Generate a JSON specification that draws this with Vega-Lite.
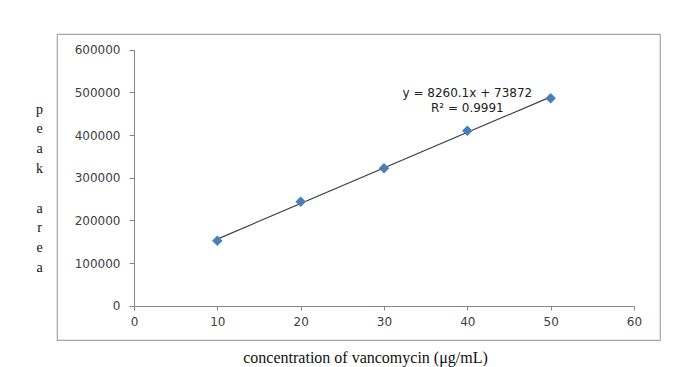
{
  "$schema": "https://vega.github.io/schema/vega-lite/v6.json",
  "width": 603,
  "height": 306,
  "autosize": {"type": "none"},
  "padding": {"left": 57, "top": 34, "right": 21, "bottom": 27},
  "background": "white",
  "config": {"view": {"stroke": "#a6a6a6", "strokeWidth": 1.2}, "font": "DejaVu Sans"},
  "data": {"values": [
    {"conc": 10, "area": 152500},
    {"conc": 20, "area": 243500},
    {"conc": 30, "area": 322000},
    {"conc": 40, "area": 410000},
    {"conc": 50, "area": 486000}
  ]},
  "encoding": {
    "x": {
      "field": "conc", "type": "quantitative",
      "scale": {"domain": [0, 60], "range": [77, 577], "nice": false, "zero": false},
      "axis": {
        "values": [0, 10, 20, 30, 40, 50, 60],
        "grid": false, "domainColor": "#868686", "tickColor": "#868686", "tickSize": 4,
        "labelColor": "#404040", "labelFont": "DejaVu Sans", "labelFontSize": 12, "labelPadding": 6,
        "labelFlush": false, "offset": -34,
        "title": "concentration of vancomycin (μg/mL)",
        "titleFont": "Liberation Serif", "titleFontSize": 16, "titleFontWeight": "normal", "titleColor": "#111111",
        "titleX": 308, "titleY": 56, "titleBaseline": "alphabetic", "titleAlign": "center"
      }
    },
    "y": {
      "field": "area", "type": "quantitative",
      "scale": {"domain": [0, 600000], "range": [271.7, 15.7], "nice": false},
      "axis": {
        "values": [0, 100000, 200000, 300000, 400000, 500000, 600000], "format": "d",
        "grid": false, "domainColor": "#868686", "tickColor": "#868686", "tickSize": 5,
        "labelColor": "#404040", "labelFont": "DejaVu Sans", "labelFontSize": 12, "labelPadding": 9,
        "labelFlush": false, "offset": -77,
        "title": ["p", "e", "a", "k", "\u200b", "a", "r", "e", "a"],
        "titleAngle": 0, "titleFont": "Liberation Serif", "titleFontSize": 14, "titleFontWeight": "normal",
        "titleColor": "#111111", "titleLineHeight": 19.8,
        "titleX": -95, "titleY": 68, "titleBaseline": "top", "titleAlign": "center"
      }
    }
  },
  "layer": [
    {
      "transform": [{"regression": "area", "on": "conc", "extent": [10, 50]}],
      "mark": {"type": "line", "color": "#404040", "strokeWidth": 1.2}
    },
    {
      "mark": {"type": "point", "shape": "diamond", "filled": true, "color": "#4a7ebb", "size": 110, "opacity": 1}
    },
    {
      "transform": [{"filter": "datum.conc == 50"}],
      "mark": {"type": "text", "align": "center", "baseline": "middle", "font": "DejaVu Sans", "fontSize": 12, "fontWeight": "normal", "lineHeight": 15, "color": "#222222"},
      "encoding": {
        "x": {"datum": 40, "type": "quantitative"},
        "y": {"datum": 498000, "type": "quantitative"},
        "text": {"value": ["y = 8260.1x + 73872", "R² = 0.9991"]}
      }
    }
  ]
}
